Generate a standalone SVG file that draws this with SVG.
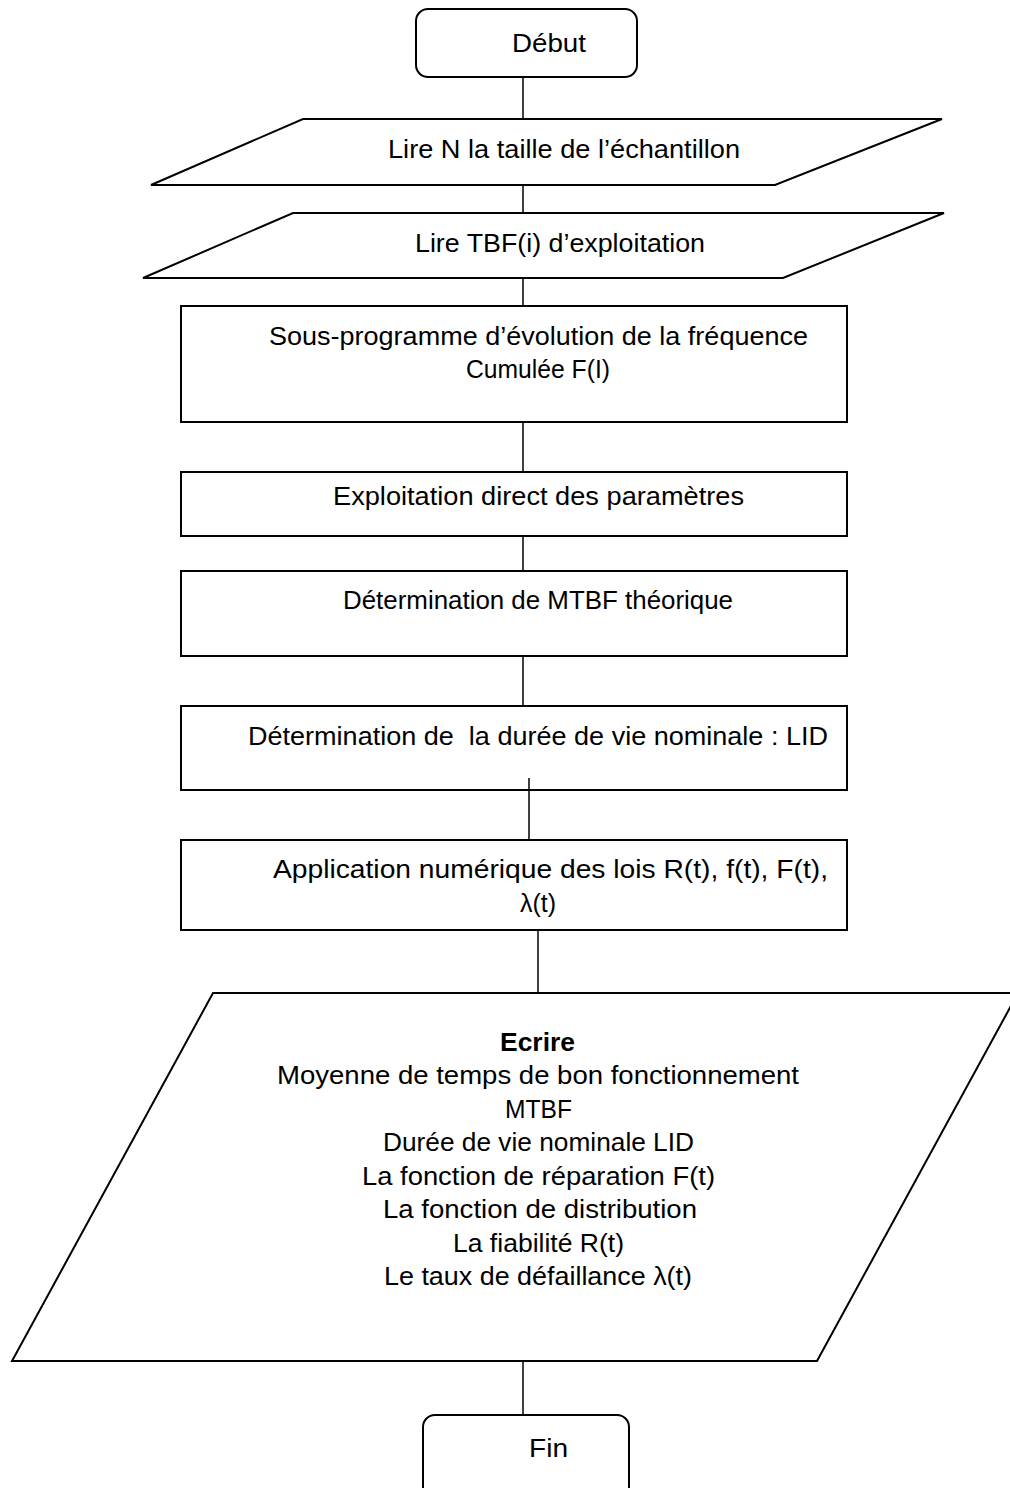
<svg xmlns="http://www.w3.org/2000/svg" width="1010" height="1488" viewBox="0 0 1010 1488">
<style>
.s{fill:#fff;stroke:#000;stroke-width:2}
.c{stroke:#000;stroke-width:1.5;fill:none}
text{font-family:"Liberation Sans",Arial,sans-serif;font-size:25px;fill:#000}
.b{font-weight:bold}
</style>
<rect width="1010" height="1488" fill="#fff"/>
<g id="debut">
<rect class="s" x="416" y="9" width="221" height="68" rx="12"/>
<text x="512" y="52" textLength="74" lengthAdjust="spacingAndGlyphs">Début</text>
</g>
<g id="lireN">
<polygon class="s" points="303,119 942,119 775,185 151,185"/>
<text x="388" y="158" textLength="352" lengthAdjust="spacingAndGlyphs">Lire N la taille de l’échantillon</text>
</g>
<g id="lireTBF">
<polygon class="s" points="293,213 944,213 783,278 143,278"/>
<text x="415" y="252" textLength="290" lengthAdjust="spacingAndGlyphs">Lire TBF(i) d’exploitation</text>
</g>
<g id="sousprog">
<rect class="s" x="181" y="306" width="666" height="116"/>
<text x="269" y="345" textLength="539" lengthAdjust="spacingAndGlyphs">Sous-programme d’évolution de la fréquence</text>
<text x="466" y="378" textLength="144" lengthAdjust="spacingAndGlyphs">Cumulée F(I)</text>
</g>
<g id="exploitation">
<rect class="s" x="181" y="472" width="666" height="64"/>
<text x="333" y="505" textLength="411" lengthAdjust="spacingAndGlyphs">Exploitation direct des paramètres</text>
</g>
<g id="mtbf">
<rect class="s" x="181" y="571" width="666" height="85"/>
<text x="343" y="609" textLength="390" lengthAdjust="spacingAndGlyphs">Détermination de MTBF théorique</text>
</g>
<g id="lid">
<rect class="s" x="181" y="706" width="666" height="84"/>
<text x="248" y="745" textLength="580" lengthAdjust="spacingAndGlyphs" xml:space="preserve">Détermination de  la durée de vie nominale : LID</text>
</g>
<g id="application">
<rect class="s" x="181" y="840" width="666" height="90"/>
<text x="273" y="878" textLength="555" lengthAdjust="spacingAndGlyphs">Application numérique des lois R(t), f(t), F(t),</text>
<text x="520" y="912" textLength="36" lengthAdjust="spacingAndGlyphs">λ(t)</text>
</g>
<g id="ecrire">
<polygon class="s" points="213,993 1018,993 817,1361 12,1361"/>
<text class="b" x="500" y="1051" textLength="75" lengthAdjust="spacingAndGlyphs">Ecrire</text>
<text x="277" y="1084" textLength="522" lengthAdjust="spacingAndGlyphs">Moyenne de temps de bon fonctionnement</text>
<text x="505" y="1118" textLength="67" lengthAdjust="spacingAndGlyphs">MTBF</text>
<text x="383" y="1151" textLength="311" lengthAdjust="spacingAndGlyphs">Durée de vie nominale LID</text>
<text x="362" y="1185" textLength="353" lengthAdjust="spacingAndGlyphs">La fonction de réparation F(t)</text>
<text x="383" y="1218" textLength="314" lengthAdjust="spacingAndGlyphs">La fonction de distribution</text>
<text x="453" y="1252" textLength="171" lengthAdjust="spacingAndGlyphs">La fiabilité R(t)</text>
<text x="384" y="1285" textLength="308" lengthAdjust="spacingAndGlyphs">Le taux de défaillance λ(t)</text>
</g>
<g id="fin">
<rect class="s" x="423" y="1415" width="206" height="90" rx="12"/>
<text x="529" y="1457" textLength="39" lengthAdjust="spacingAndGlyphs">Fin</text>
</g>
<g id="connectors">
<line class="c" x1="523" y1="78" x2="523" y2="118"/>
<line class="c" x1="523" y1="186" x2="523" y2="212"/>
<line class="c" x1="523" y1="279" x2="523" y2="305"/>
<line class="c" x1="523" y1="423" x2="523" y2="471"/>
<line class="c" x1="523" y1="537" x2="523" y2="570"/>
<line class="c" x1="523" y1="657" x2="523" y2="705"/>
<line class="c" x1="529" y1="778" x2="529" y2="839"/>
<line class="c" x1="538" y1="931" x2="538" y2="992"/>
<line class="c" x1="523" y1="1362" x2="523" y2="1414"/>
</g>
</svg>
